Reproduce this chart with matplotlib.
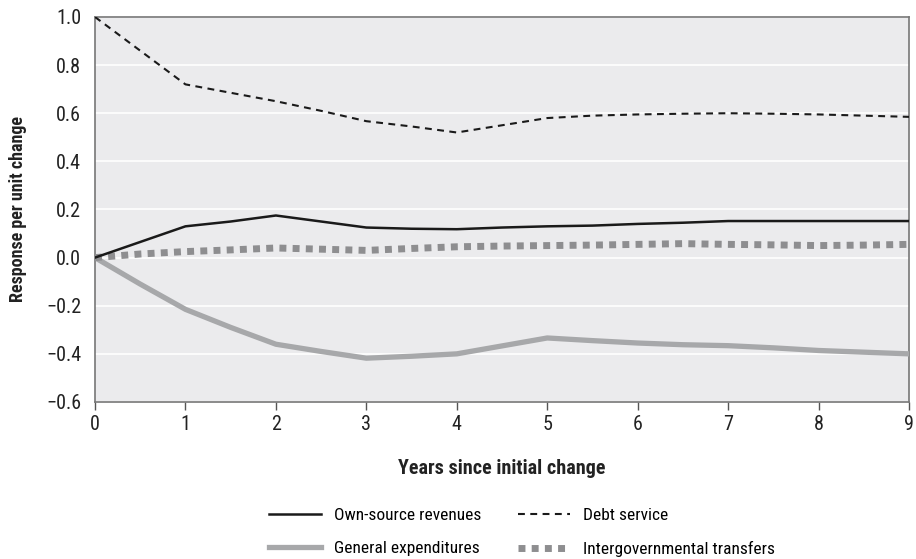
import matplotlib
matplotlib.use("Agg")
import matplotlib.pyplot as plt

# years after the change, half-year steps
years = [0, 0.5, 1, 1.5, 2, 2.5, 3, 3.5, 4, 4.5, 5, 5.5, 6, 6.5, 7, 7.5, 8, 8.5, 9]

own_source = [0.0, 0.065, 0.13, 0.15, 0.175, 0.15, 0.125, 0.12, 0.118, 0.125, 0.13, 0.133, 0.14, 0.145, 0.152, 0.152, 0.152, 0.152, 0.152]
general_exp = [0.0, -0.11, -0.215, -0.29, -0.36, -0.39, -0.418, -0.41, -0.40, -0.367, -0.334, -0.345, -0.355, -0.362, -0.366, -0.375, -0.386, -0.393, -0.40]
debt_service = [1.0, 0.86, 0.72, 0.685, 0.65, 0.61, 0.567, 0.545, 0.52, 0.55, 0.58, 0.59, 0.595, 0.598, 0.60, 0.598, 0.595, 0.59, 0.585]
intergov = [0.0, 0.015, 0.025, 0.032, 0.04, 0.035, 0.03, 0.038, 0.045, 0.048, 0.05, 0.052, 0.055, 0.058, 0.055, 0.053, 0.05, 0.052, 0.055]

labels = ["Own-source revenues", "General expenditures", "Debt service", "Intergovernmental transfers"]

plt.rcParams['font.family'] = ['Roboto Condensed', 'Roboto', 'DejaVu Sans']

fig = plt.figure(figsize=(9.16, 5.59), dpi=100)
ax = fig.add_axes([0.1037, 0.2809, 0.8887, 0.6887])
ax.set_facecolor('#ebebed')

ax.plot(years, own_source, color='#1a1a1a', lw=1.8, label=labels[0], zorder=4)
ax.plot(years, general_exp, color='#a7a8aa', lw=3.8, label=labels[1], zorder=3)
ax.plot(years, debt_service, color='#1a1a1a', lw=1.5, dashes=(3.3, 2.6), label=labels[2], zorder=4)
ax.plot(years, intergov, color='#8e8e90', lw=5, dashes=(1, 0.9), label=labels[3], zorder=3)

ax.set_xlim(0, 9)
ax.set_ylim(-0.6, 1.0)
ax.set_xticks(range(10))
ax.set_yticks([-0.6, -0.4, -0.2, 0.0, 0.2, 0.4, 0.6, 0.8, 1.0])
ax.set_yticklabels(['\u22120.6', '\u22120.4', '\u22120.2', '0.0', '0.2', '0.4', '0.6', '0.8', '1.0'])
ax.yaxis.grid(True, color='white', lw=1.2)
ax.set_axisbelow(True)
ax.tick_params(axis='y', length=0, labelsize=14.5, pad=10, colors='#222222')
ax.tick_params(axis='x', length=6, width=1, color='#555555', labelsize=14.5, colors='#222222')
for s in ax.spines.values():
    s.set_color('#777777')
    s.set_linewidth(1.2)

ax.set_xlabel('Years since initial change', fontsize=14.5, fontweight='bold', color='#222222', labelpad=18)
ax.set_ylabel('Response per unit change', fontsize=13, fontweight='bold', color='#222222', labelpad=14)

h, l = ax.get_legend_handles_labels()
fig.legend(h, l, loc='lower center', ncol=2, bbox_to_anchor=(0.57, -0.025),
           frameon=False, fontsize=12.5, handlelength=3.0, columnspacing=2.1,
           labelspacing=1.05, handletextpad=0.75)

fig.savefig('out.png', dpi=100)
